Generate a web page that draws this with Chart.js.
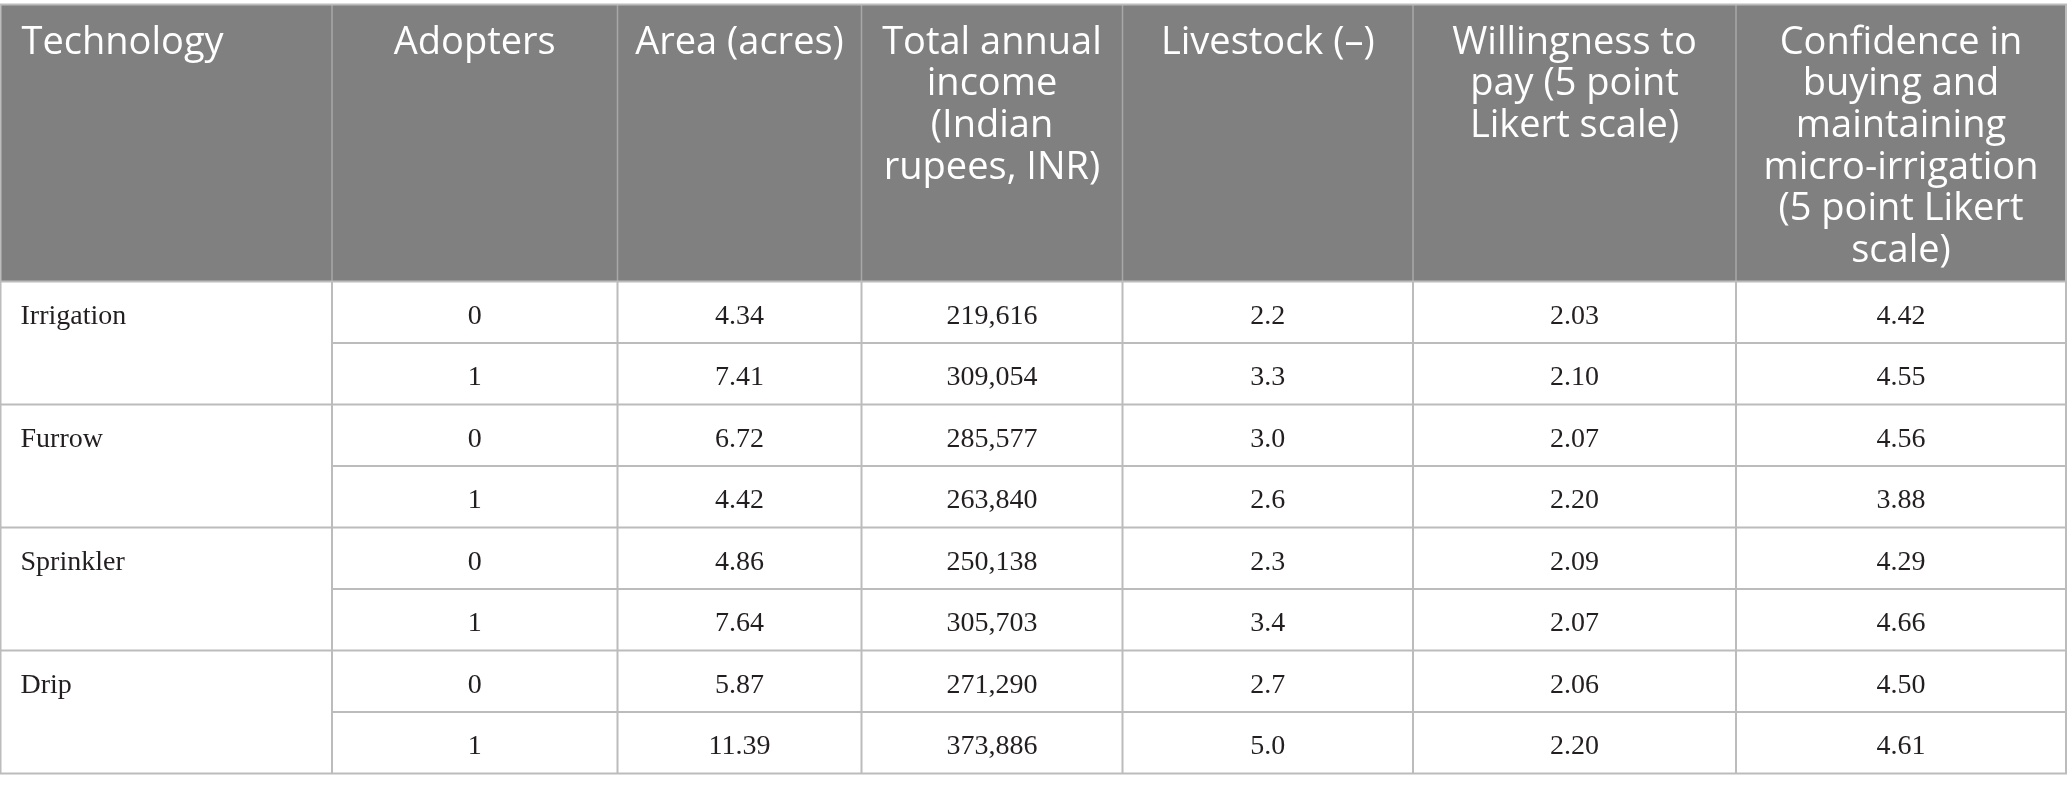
<!DOCTYPE html>
<html>
<head>
<meta charset="utf-8">
<script src="https://cdn.jsdelivr.net/npm/chart.js@4"></script>
<style>
  html, body { margin: 0; padding: 0; background: #ffffff; }
  #table-chart { display: block; }
</style>
</head>
<body>
<canvas id="table-chart" width="2068" height="791"></canvas>
<script>
// Table contents
const headers = [
    ['Technology'],
    ['Adopters'],
    ['Area (acres)'],
    ['Total annual', 'income', '(Indian', 'rupees, INR)'],
    ['Livestock (\u2013)'],
    ['Willingness to', 'pay (5 point', 'Likert scale)'],
    ['Confidence in', 'buying and', 'maintaining', 'micro-irrigation', '(5 point Likert', 'scale)']
];
const technologies = ['Irrigation', 'Furrow', 'Sprinkler', 'Drip'];
const adopters = [0, 1, 0, 1, 0, 1, 0, 1];
const area = [4.34, 7.41, 6.72, 4.42, 4.86, 7.64, 5.87, 11.39];
const income = [219616, 309054, 285577, 263840, 250138, 305703, 271290, 373886];
const livestock = [2.2, 3.3, 3.0, 2.6, 2.3, 3.4, 2.7, 5.0];
const willingness = [2.03, 2.10, 2.07, 2.20, 2.09, 2.07, 2.06, 2.20];
const confidence = [4.42, 4.55, 4.56, 3.88, 4.29, 4.66, 4.50, 4.61];

// Layout (scale units)
const colEdges = [0.5, 332, 617.5, 861.5, 1122.5, 1413, 1736, 2066];
const tableTop = 4.5;
const headerBottom = 281.5;
const rowHeight = 61.5;

const HEADER_BG = '#7f807f';
const HEADER_LINE = '#a8a8a8';
const GRID_LINE = '#bcbcbc';
const BODY_TEXT = '#231f20';
const HEADER_FONT = '400 38px "Open Sans"';
const BODY_FONT = '28px "Liberation Serif"';

function bodyRows() {
    return adopters.map((a, i) => [
        String(a),
        area[i].toFixed(2),
        income[i].toLocaleString('en-US'),
        livestock[i].toFixed(1),
        willingness[i].toFixed(2),
        confidence[i].toFixed(2)
    ]);
}

// one invisible point per body cell so the scales know the table
const cellPoints = [];
bodyRows().forEach((row, r) => {
    row.forEach((_, c) => {
        cellPoints.push({
            x: (colEdges[c + 1] + colEdges[c + 2]) / 2,
            y: headerBottom + rowHeight * (r + 0.5)
        });
    });
});

const tablePlugin = {
    id: 'tableCells',
    beforeDatasetsDraw(chart) {
        const ctx = chart.ctx;
        const xs = chart.scales.x;
        const ys = chart.scales.y;
        const px = v => xs.getPixelForValue(v);
        const py = v => ys.getPixelForValue(v);
        const left = px(colEdges[0]);
        const right = px(colEdges[colEdges.length - 1]);
        const top = py(tableTop);
        const hb = py(headerBottom);
        const nRows = adopters.length;
        const bottom = py(headerBottom + rowHeight * nRows);

        ctx.save();
        // header background
        ctx.fillStyle = HEADER_BG;
        ctx.fillRect(left, top, right - left, hb - top);

        // header separators
        ctx.strokeStyle = HEADER_LINE;
        ctx.lineWidth = 1.5;
        for (let c = 1; c < colEdges.length - 1; c++) {
            ctx.beginPath();
            ctx.moveTo(px(colEdges[c]), top);
            ctx.lineTo(px(colEdges[c]), hb);
            ctx.stroke();
        }

        // body grid
        ctx.strokeStyle = GRID_LINE;
        ctx.lineWidth = 2;
        for (let c = 1; c < colEdges.length - 1; c++) {
            ctx.beginPath();
            ctx.moveTo(px(colEdges[c]), hb);
            ctx.lineTo(px(colEdges[c]), bottom);
            ctx.stroke();
        }
        for (let r = 1; r < nRows; r++) {
            const yy = py(headerBottom + rowHeight * r);
            const x0 = r % 2 === 0 ? left : px(colEdges[1]);
            ctx.beginPath();
            ctx.moveTo(x0, yy);
            ctx.lineTo(right, yy);
            ctx.stroke();
        }
        // outer frame
        ctx.beginPath();
        ctx.moveTo(left, hb);
        ctx.lineTo(right, hb);
        ctx.stroke();
        ctx.strokeRect(left, top, right - left, bottom - top);

        // header text
        ctx.fillStyle = '#ffffff';
        ctx.font = HEADER_FONT;
        ctx.textBaseline = 'alphabetic';
        headers.forEach((lines, c) => {
            lines.forEach((line, k) => {
                const yy = py(tableTop + 49 + k * 41.7);
                if (c === 0) {
                    ctx.textAlign = 'left';
                    ctx.fillText(line, px(colEdges[0]) + 21, yy);
                } else {
                    ctx.textAlign = 'center';
                    ctx.fillText(line, px((colEdges[c] + colEdges[c + 1]) / 2), yy);
                }
            });
        });

        // body text
        ctx.fillStyle = BODY_TEXT;
        ctx.font = BODY_FONT;
        technologies.forEach((t, i) => {
            ctx.textAlign = 'left';
            ctx.fillText(t, px(colEdges[0]) + 20, py(headerBottom + rowHeight * (2 * i) + 42));
        });
        bodyRows().forEach((row, r) => {
            row.forEach((txt, c) => {
                ctx.textAlign = 'center';
                ctx.fillText(txt, px((colEdges[c + 1] + colEdges[c + 2]) / 2),
                    py(headerBottom + rowHeight * r + 42));
            });
        });
        ctx.restore();
    }
};

new Chart(document.getElementById('table-chart').getContext('2d'), {
    type: 'scatter',
    data: {
        datasets: [{
            label: 'cells',
            data: cellPoints,
            pointRadius: 0,
            pointHoverRadius: 0
        }]
    },
    options: {
        responsive: false,
        animation: false,
        devicePixelRatio: 1,
        layout: { padding: 0 },
        plugins: {
            legend: { display: false },
            tooltip: { enabled: false }
        },
        scales: {
            x: { type: 'linear', min: 0, max: 2068, display: false },
            y: { type: 'linear', min: 0, max: 791, reverse: true, display: false }
        }
    },
    plugins: [tablePlugin]
});
</script>
</body>
</html>
